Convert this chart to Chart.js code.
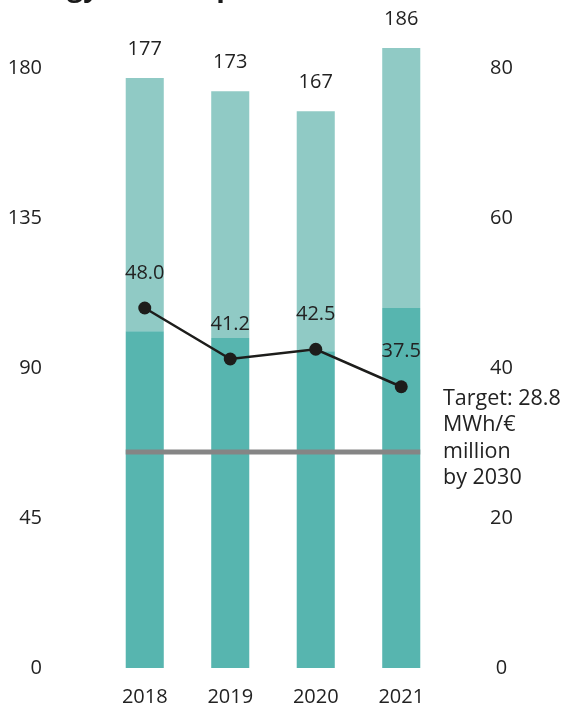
<!DOCTYPE html>
<html>
<head>
<meta charset="utf-8">
<script src="https://cdn.jsdelivr.net/npm/chart.js@4.4.1/dist/chart.umd.min.js"></script>
<style>
  html, body { margin: 0; padding: 0; background: #ffffff; }
  canvas { display: block; }
</style>
</head>
<body>
<canvas id="c" width="562" height="708"></canvas>
<script>
const categories = ['2018', '2019', '2020', '2021'];
const baseValues = [101, 99, 95, 108];
const topValues = [76, 74, 72, 78];
const totals = [177, 173, 167, 186];
const intensity = [48.0, 41.2, 42.5, 37.5];
const leftTicks = [0, 45, 90, 135, 180];
const rightTicks = [0, 20, 40, 60, 80];
const target = 28.8;
const targetLabel = ['Target: 28.8', 'MWh/€', 'million', 'by 2030'];
const titleText = 'Energy consumption';

const FONT = '"Open Sans", "Noto Sans", sans-serif';
const TEXT = '#222222';
const leftMax = 195;
const rightMax = leftMax * 80 / 180;

function noPad(s) {
  s.paddingTop = 0; s.paddingBottom = 0; s.paddingLeft = 0; s.paddingRight = 0;
}

const overlay = {
  id: 'overlay',
  afterDatasetsDraw(chart) {
    const ctx = chart.ctx;
    const x = chart.scales.x;
    const y1 = chart.scales.y1;
    const barMeta = chart.getDatasetMeta(0);
    const topMeta = chart.getDatasetMeta(1);
    const lineMeta = chart.getDatasetMeta(2);
    const half = barMeta.data[0].width / 2;

    // target line
    const ty = y1.getPixelForValue(target);
    ctx.save();
    ctx.strokeStyle = '#858585';
    ctx.lineWidth = 5;
    ctx.beginPath();
    ctx.moveTo(x.getPixelForValue(0) - half, ty);
    ctx.lineTo(x.getPixelForValue(categories.length - 1) + half, ty);
    ctx.stroke();

    // value labels
    ctx.fillStyle = TEXT;
    ctx.font = '20px ' + FONT;
    ctx.textAlign = 'center';
    ctx.textBaseline = 'middle';
    topMeta.data.forEach((bar, i) => {
      ctx.fillText(String(totals[i]), bar.x, bar.y - 29);
    });
    lineMeta.data.forEach((pt, i) => {
      ctx.fillText(intensity[i].toFixed(1), pt.x, pt.y - 35);
    });

    // target annotation
    ctx.textAlign = 'left';
    ctx.font = '21.5px ' + FONT;
    const tx = chart.chartArea.right - 1;
    targetLabel.forEach((t, i) => {
      ctx.fillText(t, tx, ty - 53 + i * 26.3);
    });

    // clipped title at the very top
    ctx.fillStyle = '#1a1a1a';
    ctx.font = 'bold 28px ' + FONT;
    ctx.textBaseline = 'alphabetic';
    ctx.fillText(titleText, 4, -4);
    ctx.restore();
  }
};

new Chart(document.getElementById('c'), {
  data: {
    labels: categories,
    datasets: [
      {
        type: 'bar',
        data: baseValues,
        backgroundColor: '#57b5af',
        yAxisID: 'y',
        stack: 's',
        order: 2,
        barPercentage: 0.445,
        categoryPercentage: 1.0
      },
      {
        type: 'bar',
        data: topValues,
        backgroundColor: '#90cac5',
        yAxisID: 'y',
        stack: 's',
        order: 2,
        barPercentage: 0.445,
        categoryPercentage: 1.0
      },
      {
        type: 'line',
        data: intensity,
        yAxisID: 'y1',
        borderColor: '#1d1d1b',
        borderWidth: 2.5,
        pointRadius: 6.5,
        pointBackgroundColor: '#1d1d1b',
        pointBorderColor: '#1d1d1b',
        pointBorderWidth: 0,
        tension: 0,
        order: 0
      }
    ]
  },
  options: {
    responsive: false,
    animation: false,
    devicePixelRatio: 1,
    layout: { padding: { top: 18, bottom: 0, left: 0, right: 0 } },
    plugins: {
      legend: { display: false },
      tooltip: { enabled: false },
      title: { display: false }
    },
    scales: {
      x: {
        stacked: true,
        grid: { display: false, drawTicks: false },
        border: { display: false },
        ticks: { color: TEXT, font: { family: FONT, size: 20 }, padding: 17 },
        afterFit(s) { s.height = 40; noPad(s); }
      },
      y: {
        stacked: true,
        position: 'left',
        min: 0,
        max: leftMax,
        grid: { display: false, drawTicks: false },
        border: { display: false },
        ticks: { color: TEXT, font: { family: FONT, size: 20 }, padding: 60 },
        afterBuildTicks(s) { s.ticks = leftTicks.map(v => ({ value: v })); },
        afterFit(s) { s.width = 102; noPad(s); }
      },
      y1: {
        position: 'right',
        min: 0,
        max: rightMax,
        grid: { display: false, drawTicks: false },
        border: { display: false },
        ticks: { color: TEXT, font: { family: FONT, size: 20 }, padding: 46, crossAlign: 'center' },
        afterBuildTicks(s) { s.ticks = rightTicks.map(v => ({ value: v })); },
        afterFit(s) { s.width = 118; noPad(s); }
      }
    }
  },
  plugins: [overlay]
});
</script>
</body>
</html>
